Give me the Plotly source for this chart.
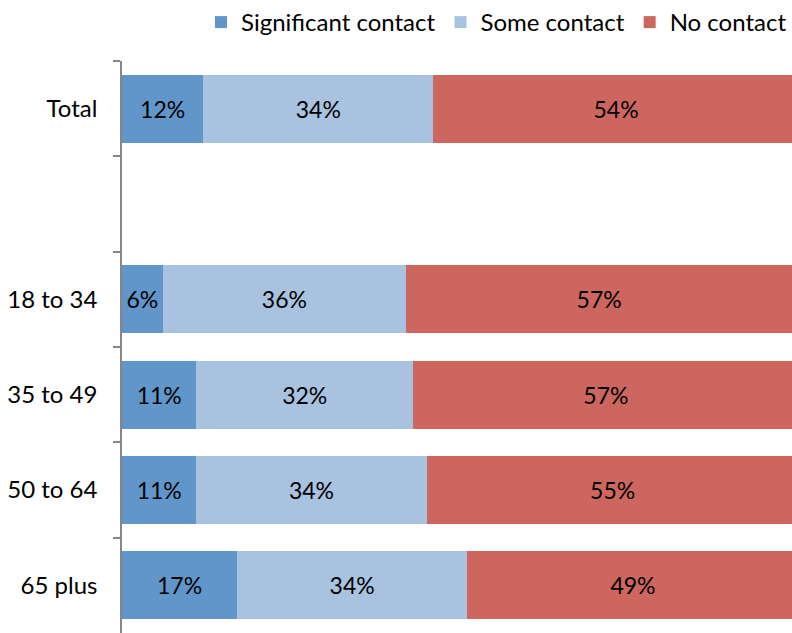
import plotly.graph_objects as go

categories = ["Total", " ", "18 to 34", "35 to 49", "50 to 64", "65 plus"]
significant = [12, None, 6, 11, 11, 17]
some = [34, None, 36, 32, 34, 34]
none_ = [54, None, 57, 57, 55, 49]

series = [
    ("Significant contact", significant, "#6096CA"),
    ("Some contact", some, "#A8C2E0"),
    ("No contact", none_, "#CD665F"),
]

FONT = "Lato"

fig = go.Figure()
for name, vals, color in series:
    fig.add_trace(go.Bar(
        y=categories, x=vals, name=name, orientation="h",
        marker=dict(color=color, line=dict(width=0)),
        text=[f"{v}%" if v is not None else "" for v in vals],
        textposition="inside", insidetextanchor="middle",
        textfont=dict(size=23, color="black", family=FONT),
        hoverinfo="skip",
    ))

fig.update_layout(
    barmode="stack",
    bargap=0.29,
    width=792, height=633,
    margin=dict(l=122, r=0, t=61, b=0),
    plot_bgcolor="white", paper_bgcolor="white",
    font=dict(family=FONT, size=23, color="black"),
    uniformtext=dict(mode=False),
    legend=dict(
        orientation="h", x=1.0, xanchor="right", y=1.0, yanchor="top",
        yref="container", font=dict(size=24, family=FONT),
        traceorder="normal", itemwidth=30, tracegroupgap=0,
    ),
    showlegend=True,
)
fig.update_xaxes(range=[0, 99], visible=False, showgrid=False)
fig.update_yaxes(
    type="category", categoryorder="array", categoryarray=categories,
    autorange="reversed", tickson="boundaries",
    showline=True, linecolor="#868686", linewidth=1.5,
    ticks="outside", ticklen=7, tickcolor="#868686", tickwidth=1.5,
    ticklabelstandoff=18, showgrid=False,
    tickfont=dict(size=24, color="black", family=FONT),
)

fig.write_html("out.html")
